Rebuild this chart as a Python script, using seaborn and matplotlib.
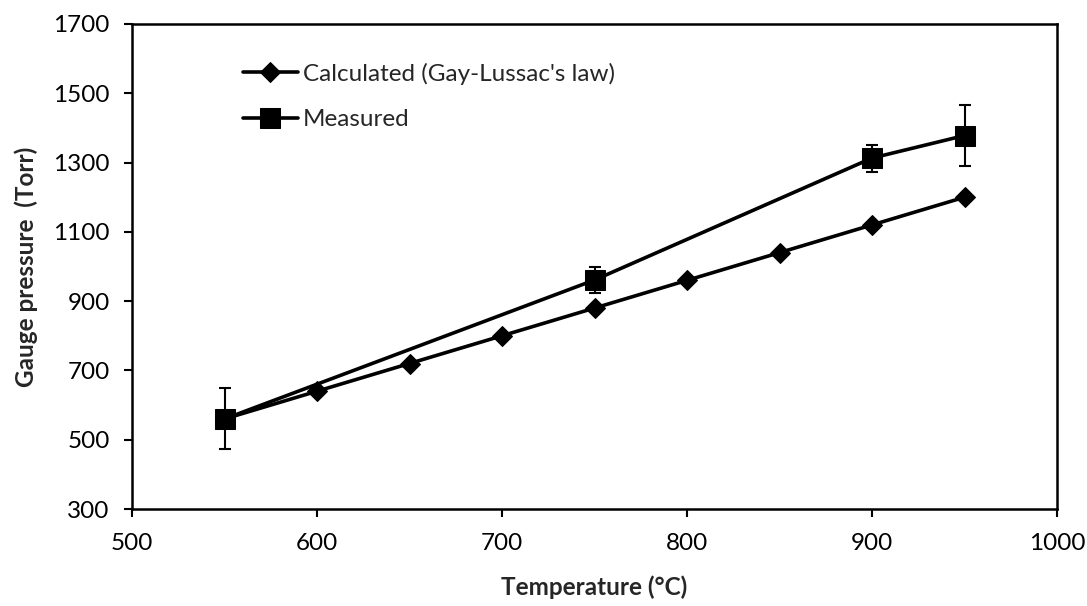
import matplotlib
matplotlib.use("Agg")
import matplotlib.pyplot as plt
import seaborn as sns
import pandas as pd

# ---- data ----
calc_temp = [550, 600, 650, 700, 750, 800, 850, 900, 950]
calc_pressure = [560, 640, 720, 800, 880, 960, 1040, 1120, 1200]

meas_temp = [550, 750, 900, 950]
meas_pressure = [560, 961, 1313, 1378]
meas_err = [88, 38, 39, 89]

x_ticks = [500, 600, 700, 800, 900, 1000]
y_ticks = [300, 500, 700, 900, 1100, 1300, 1500, 1700]

calc_label = "Calculated (Gay-Lussac's law)"
meas_label = "Measured"
x_label = "Temperature (°C)"
y_label = "Gauge pressure  (Torr)"

sns.set_theme(style="white")
plt.rcParams['font.family'] = ['Lato', 'DejaVu Sans']

FS = 17.5

calc_df = pd.DataFrame({"T": calc_temp, "P": calc_pressure})
meas_df = pd.DataFrame({"T": meas_temp, "P": meas_pressure, "err": meas_err})

fig = plt.figure(figsize=(10.87, 6.06), dpi=100)
ax = fig.add_axes([132 / 1087, 1 - 509 / 606, (1057 - 132) / 1087, (509 - 24) / 606])

sns.lineplot(data=calc_df, x="T", y="P", ax=ax, color="black", linewidth=2.6,
             marker="D", markersize=10.5, markeredgecolor="black",
             markerfacecolor="black", label=calc_label)
sns.lineplot(data=meas_df, x="T", y="P", ax=ax, color="black", linewidth=2.6,
             marker="s", markersize=14, markeredgecolor="black",
             markerfacecolor="black", label=meas_label)
ax.errorbar(meas_df["T"], meas_df["P"], yerr=meas_df["err"], fmt="none",
            ecolor="black", elinewidth=1.5, capsize=4.3, capthick=1.5, zorder=1)

ax.set_xlim(500, 1000)
ax.set_ylim(300, 1700)
ax.set_xticks(x_ticks)
ax.set_yticks(y_ticks)
ax.tick_params(axis="both", which="major", labelsize=FS, length=6, width=1.5,
               direction="out", pad=10, colors="black")
ax.tick_params(axis="x", pad=11)
ax.tick_params(bottom=True, left=True, top=False, right=False)
for s in ax.spines.values():
    s.set_visible(True)
    s.set_color("black")
    s.set_linewidth(1.8)

ax.set_xlabel(x_label, fontsize=FS, fontweight="bold", labelpad=16)
ax.set_ylabel(y_label, fontsize=FS, fontweight="bold", labelpad=11)

ax.legend(loc="upper left", bbox_to_anchor=(0.12, 0.92), frameon=False,
          fontsize=FS, borderpad=0, borderaxespad=0, handlelength=2.25,
          handletextpad=0.22, labelspacing=1.0)

ax.grid(False)
fig.savefig("out.png", dpi=100)
